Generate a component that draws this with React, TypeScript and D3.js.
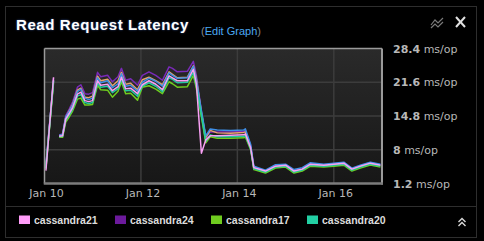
import React from "react";
import * as d3 from "d3";

const W = 484;
const H = 241;

// hours since Jan 10 00:00 for each sample (null values = no data)
const hours = [0.7, 4.5, 5.5, 7.3, 9.0, 10.6, 12.3, 14.0, 16.4, 18.1, 20.1, 22.0, 23.9, 26.4, 28.0, 31.4, 33.8, 36.6, 38.3, 40.4, 42.9, 46.3, 48.7, 52.0, 55.4, 58.7, 62.0, 63.7, 66.1, 71.1, 74.1, 75.6, 78.1, 80.3, 82.5, 86.0, 92.6, 99.2, 100.0, 102.6, 104.2, 110.0, 115.0, 120.0, 124.2, 128.3, 132.4, 139.0, 144.0, 149.0, 153.0, 157.2, 162.2, 167.2];

const cassandra24 = [4.8, 22.4, null, 11.0, 11.2, 14.9, 16.2, 17.6, 20.6, 21.1, 19.3, 19.2, 19.5, 23.6, 22.7, 23.0, 21.7, 22.7, 24.4, 22.0, 22.3, 21.0, 23.0, 23.7, 23.0, 22.0, 24.7, 24.4, 23.7, 23.8, 25.8, 23.0, 15.8, 10.4, 11.6, 11.6, 11.6, 11.7, 11.9, 8.9, 4.5, 3.8, 4.8, 5.0, 3.8, 4.2, 5.2, 5.0, 5.2, 5.4, 4.2, 4.8, 5.4, 5.0];
const cassandra22 = [4.6, 22.0, null, 10.8, 11.0, 14.5, 15.8, 17.1, 20.0, 20.4, 18.6, 18.5, 18.8, 22.8, 21.9, 22.2, 20.9, 21.9, 23.6, 21.2, 21.4, 20.1, 22.1, 22.6, 21.9, 21.1, 23.7, 23.2, 22.5, 22.6, 24.9, 22.3, 15.5, 10.5, 11.9, 11.4, 11.3, 11.5, 11.6, 8.6, 4.3, 3.6, 4.6, 4.8, 3.6, 4.0, 5.0, 4.8, 5.0, 5.2, 4.0, 4.6, 5.2, 4.8];
const cassandra19 = [4.9, 22.0, null, 10.9, 11.1, 14.6, 15.7, 17.0, 19.7, 20.2, 18.4, 18.1, 18.4, 22.5, 21.5, 21.9, 20.5, 21.3, 23.3, 20.8, 21.0, 19.8, 21.6, 22.4, 21.8, 20.8, 23.5, 23.0, 22.4, 22.5, 24.8, 22.0, 15.9, 10.8, 12.2, 12.0, 11.9, 12.0, 12.2, 9.1, 4.7, 3.9, 5.0, 5.1, 4.0, 4.4, 5.4, 5.1, 5.3, 5.5, 4.3, 4.9, 5.5, 5.1];
const cassandra21 = [3.8, 22.6, null, 10.7, 10.8, 14.2, 15.3, 16.5, 19.2, 19.6, 17.9, 17.7, 17.9, 21.9, 21.0, 21.2, 19.9, 20.7, 22.6, 20.3, 20.4, 19.3, 21.1, 21.9, 21.2, 20.1, 22.9, 22.5, 21.9, 21.9, 24.2, 21.3, 7.3, 10.0, 10.8, 10.8, 10.9, 11.0, 11.2, 8.4, 4.4, 3.7, 4.7, 4.9, 3.7, 4.1, 5.1, 4.9, 5.1, 5.3, 4.1, 4.7, 5.3, 4.9];
const cassandra20 = [4.3, 21.8, null, 10.6, 10.7, 14.0, 15.0, 16.2, 18.8, 19.1, 17.5, 17.3, 17.5, 21.4, 20.6, 20.8, 19.5, 20.3, 22.2, 19.9, 20.0, 18.8, 20.8, 21.5, 20.8, 19.7, 22.5, 22.2, 21.5, 21.6, 23.6, 20.9, 15.0, 9.7, 11.0, 10.6, 10.6, 10.7, 10.9, 8.2, 4.2, 3.5, 4.5, 4.7, 3.5, 3.9, 4.9, 4.7, 4.9, 5.1, 3.9, 4.5, 5.1, 4.7];
const cassandra17 = [4.2, 21.5, null, 10.5, 10.5, 13.6, 14.6, 15.8, 18.2, 18.4, 17.0, 17.0, 17.1, 21.0, 20.1, 20.0, 18.6, 19.8, 21.7, 19.3, 19.4, 18.0, 20.6, 20.9, 20.2, 19.3, 21.7, 21.3, 20.6, 20.7, 23.0, 20.3, 14.6, 9.4, 10.6, 10.3, 10.3, 10.4, 10.6, 8.0, 4.0, 3.3, 4.3, 4.5, 3.3, 3.7, 4.7, 4.5, 4.7, 4.9, 3.7, 4.3, 4.9, 4.5];

const seriesNames = ["cassandra24", "cassandra22", "cassandra19", "cassandra17", "cassandra20", "cassandra21"];
const seriesValues = [cassandra24, cassandra22, cassandra19, cassandra17, cassandra20, cassandra21];
const seriesColors = ["#7a2ab8", "#e8a36c", "#3f8fe6", "#6fcc1f", "#22c9a0", "#f9a0f4"];

const legendNames = ["cassandra21", "cassandra24", "cassandra17", "cassandra20"];
const legendColors = ["#ff9cf8", "#6c1a9c", "#6fcc1f", "#22cfa3"];

const yTicks = [28.4, 21.6, 14.8, 8, 1.2];
const xTickDays = [10, 12, 14, 16];
const xTickLabels = ["Jan 10", "Jan 12", "Jan 14", "Jan 16"];

const t0 = new Date(2013, 0, 10);
const t1 = new Date(2013, 0, 17);

export default function App() {
  const plot = { left: 44.5, right: 382, top: 48.5, bottom: 183.5 };
  const x = d3.scaleTime().domain([t0, t1]).range([plot.left, plot.right]);
  const y = d3.scaleLinear().domain([1.2, 28.4]).range([plot.bottom, plot.top]);

  const line = d3
    .line<[number, number | null]>()
    .defined((d) => d[1] !== null)
    .x((d) => x(new Date(t0.getTime() + d[0] * 3600 * 1000)))
    .y((d) => y(d[1] as number));

  const sans = "'DejaVu Sans', Verdana, sans-serif";
  const arial = "'Liberation Sans', Arial, sans-serif";

  return (
    <div style={{ position: "fixed", left: 0, top: 0, width: W, height: H, background: "#000" }}>
      <svg width={W} height={H} style={{ display: "block" }}>
        <defs>
          <linearGradient id="plotbg" x1="0" y1="0" x2="0" y2="1">
            <stop offset="0%" stopColor="#2a2a2a" />
            <stop offset="100%" stopColor="#171717" />
          </linearGradient>
          <clipPath id="clip">
            <rect x={plot.left} y={plot.top} width={plot.right - plot.left} height={plot.bottom - plot.top} />
          </clipPath>
        </defs>
        <rect x={0} y={0} width={W} height={H} fill="#000" />
        {/* panel border */}
        <rect x={5.5} y={6.5} width={471} height={231} fill="none" stroke="#2e2e2e" strokeWidth={1} />
        <line x1={5.5} x2={476.5} y1={206.5} y2={206.5} stroke="#2e2e2e" strokeWidth={1} />

        {/* title */}
        <text x={16} y={30} fill="#fff" fontFamily={arial} fontWeight="bold" fontSize={15} letterSpacing={0.6}
          style={{ textShadow: "0 0 2px rgba(90,140,255,0.6)" }}>
          Read Request Latency
        </text>
        <text x={201} y={34.5} fontFamily={arial} fontSize={11}>
          <tspan fill="#8a8a8a">(</tspan>
          <tspan fill="#4aa9f4">Edit Graph</tspan>
          <tspan fill="#8a8a8a">)</tspan>
        </text>

        {/* icons */}
        <g stroke="#7a7a7a" strokeWidth={1.2} fill="none">
          <polyline points="431,25 435,20 438,23 443,18" />
          <polyline points="431,28 435,24 438,27 443,22" />
        </g>
        <g stroke="#e0e0e0" strokeWidth={2}>
          <line x1={456} y1={17} x2={465} y2={27} />
          <line x1={465} y1={17} x2={456} y2={27} />
        </g>

        {/* plot background */}
        <rect x={plot.left} y={plot.top} width={plot.right - plot.left} height={plot.bottom - plot.top} fill="url(#plotbg)" />

        {/* grid */}
        <g stroke="#3c3c3c" strokeWidth={1.5}>
          {yTicks.slice(1, -1).map((t) => (
            <line key={t} x1={plot.left} x2={plot.right} y1={y(t)} y2={y(t)} />
          ))}
          {xTickDays.slice(1).map((d) => {
            const xx = x(new Date(2013, 0, d));
            return <line key={d} x1={xx} x2={xx} y1={plot.top} y2={plot.bottom} />;
          })}
        </g>

        {/* series */}
        <g clipPath="url(#clip)" fill="none" strokeWidth={1.5} strokeLinejoin="round">
          {seriesValues.map((vals, i) => (
            <path key={seriesNames[i]} d={line(hours.map((h, j) => [h, vals[j]]) as any) || ""} stroke={seriesColors[i]} />
          ))}
        </g>

        {/* frame */}
        <g fill="none">
          <line x1={plot.left} x2={plot.right} y1={plot.top} y2={plot.top} stroke="#9a9a9a" strokeWidth={1.5} />
          <line x1={plot.left} x2={plot.left} y1={plot.top} y2={plot.bottom} stroke="#9a9a9a" strokeWidth={1.5} />
          <line x1={plot.right} x2={plot.right} y1={plot.top} y2={plot.bottom + 1} stroke="#9a9a9a" strokeWidth={2} />
          <line x1={plot.left - 0.75} x2={plot.right + 1} y1={plot.bottom} y2={plot.bottom} stroke="#7c7c7c" strokeWidth={2.5} />
        </g>

        {/* y tick labels */}
        {yTicks.map((t) => (
          <text key={t} x={393} y={y(t) + 4} fontFamily={sans} fontSize={11} fill="#b8b8b8">
            <tspan fontWeight="bold">{String(+t.toFixed(1))}</tspan>
            <tspan> ms/op</tspan>
          </text>
        ))}

        {/* x tick labels */}
        {xTickDays.map((d, i) => (
          <text key={d} x={x(new Date(2013, 0, d)) + 2} y={197} textAnchor="middle" fontFamily={sans} fontSize={11} fill="#b8b8b8">
            {xTickLabels[i]}
          </text>
        ))}

        {/* legend */}
        {legendNames.map((n, i) => (
          <g key={n} transform={`translate(${19 + i * 96},0)`}>
            <rect x={0} y={215.5} width={11} height={8.5} fill={legendColors[i]} />
            <text x={15} y={224} fontFamily={arial} fontWeight="bold" fontSize={10.5} fill="#dcdcdc">
              {n}
            </text>
          </g>
        ))}
        <g stroke="#d8d8d8" strokeWidth={1.4} fill="none">
          <polyline points="458.5,222 462,218.5 465.5,222" />
          <polyline points="458.5,226 462,222.5 465.5,226" />
        </g>
      </svg>
    </div>
  );
}
